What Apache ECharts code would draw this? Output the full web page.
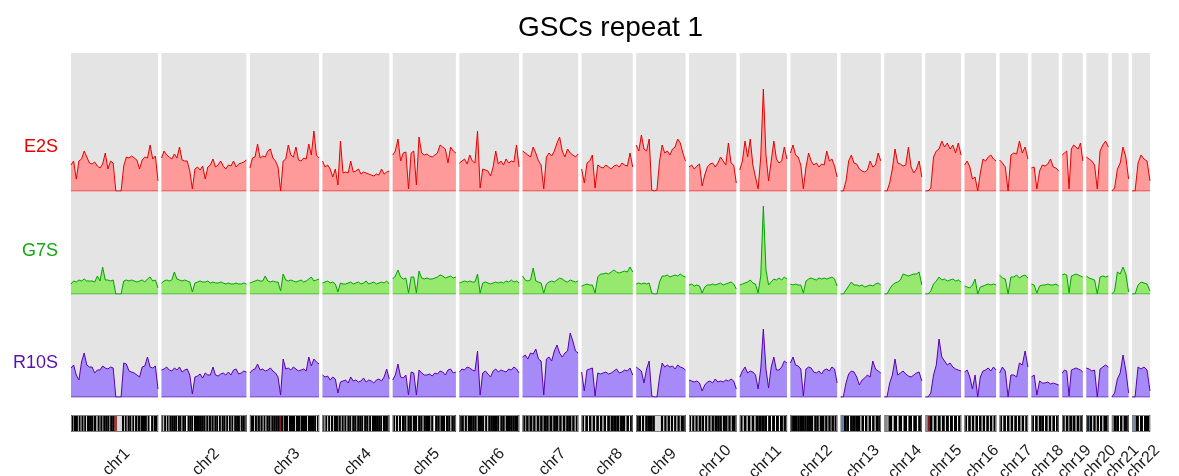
<!DOCTYPE html>
<html><head><meta charset="utf-8">
<script src="https://cdn.jsdelivr.net/npm/echarts@6/dist/echarts.min.js"></script>
<style>html,body{margin:0;padding:0;background:#fff}#c{width:1179px;height:476px}</style>
</head><body><div id="c"></div>
<script>
const chromosomes = ['chr1','chr2','chr3','chr4','chr5','chr6','chr7','chr8','chr9','chr10','chr11','chr12','chr13','chr14','chr15','chr16','chr17','chr18','chr19','chr20','chr21','chr22'];
const chrLengthsMb = [249.25,243.20,198.02,191.15,180.92,171.12,159.14,146.36,141.21,135.53,135.01,133.85,115.17,107.35,102.53,90.35,81.20,78.08,59.13,63.03,48.13,51.30];
const samples = ['E2S','G7S','R10S'];

// per-chromosome binned signal (relative units)
const E2S = [
 [26,30,12,30,32,40,34,28,27,29,25,23,27,38,22,30,28,0,0,0,25,34,33,35,33,31,22,31,34,33,46,32,35,10],
 [33,40,36,34,32,37,33,44,31,30,30,20,2,22,24,21,25,12,24,26,32,24,26,30,25,22,26,25,30,24,27,28,29,31],
 [23,33,34,47,33,35,34,40,42,33,30,24,0,30,32,46,36,34,44,31,30,33,32,47,36,60,36,33],
 [30,24,26,22,14,22,6,50,18,19,18,30,19,20,22,17,19,18,17,16,15,17,16,22,17,19,20],
 [36,40,52,30,38,39,2,38,40,6,54,38,36,37,35,34,36,38,46,44,42,28,44,40,38],
 [28,30,32,27,36,30,28,60,3,22,21,20,15,24,40,27,30,26,32,28,30,29,46,24],
 [40,38,36,34,44,38,30,26,2,34,38,35,40,48,54,40,34,42,38,36,34,37],
 [22,8,28,30,36,3,26,24,23,26,24,22,25,26,24,28,26,25,38,24],
 [46,40,56,42,40,52,1,0,1,30,46,38,40,36,42,44,52,48,38,30],
 [24,26,22,25,27,5,16,24,27,28,24,28,34,30,26,48,28,26,8],
 [21,30,50,34,52,26,14,2,34,102,36,10,30,50,32,28,30,44,32],
 [38,46,36,34,26,2,24,38,30,26,28,24,27,26,40,30,32,25,14],
 [0,0,10,30,36,28,27,22,20,19,21,30,24,26,38,30],
 [0,0,8,22,42,28,27,25,26,44,24,18,22,30,14],
 [0,0,3,34,40,42,50,44,48,42,46,38,48,36],
 [26,30,24,12,14,0,18,32,30,34,36,32,30],
 [31,28,24,0,36,38,37,50,38,44,32],
 [23,24,2,20,26,25,27,32,24,23,20],
 [36,38,40,2,42,46,44,42,48,30],
 [34,32,30,26,2,40,46,50,44],
 [0,3,22,28,44,34,12],
 [0,0,28,36,32,30,10]
];
const G7S = [
 [10,13,12,14,13,15,13,13,13,12,18,13,27,14,14,13,14,0,0,0,13,14,13,14,13,12,13,14,12,15,17,13,14,6],
 [11,13,14,13,14,22,15,14,13,14,13,12,2,11,12,13,12,12,13,11,12,11,11,12,11,10,11,10,10,11,10,10,11,10],
 [11,12,13,14,13,13,18,13,12,13,12,12,3,20,14,13,14,13,12,13,14,12,13,15,17,13,14,15],
 [11,12,13,11,12,10,2,11,10,10,11,12,10,11,12,10,11,13,10,11,12,10,11,12,11,13,10],
 [15,18,24,17,15,16,1,17,17,1,23,16,15,16,15,15,16,17,19,18,16,17,18,16,17],
 [11,12,13,12,13,12,12,20,1,11,12,11,10,11,12,11,12,11,13,12,14,12,13,11],
 [18,14,13,14,26,13,12,11,1,10,12,13,12,14,16,15,13,12,14,13,12,13],
 [8,9,10,9,9,1,17,20,20,21,20,22,24,22,21,22,23,22,27,22],
 [10,11,10,11,10,11,1,0,0,12,18,18,19,17,18,19,18,20,18,17],
 [9,10,8,9,8,1,7,9,9,10,9,10,11,9,10,11,12,10,5],
 [9,10,11,12,14,11,10,1,18,88,24,9,12,15,14,16,14,17,15],
 [10,9,10,9,9,1,13,15,16,15,14,16,15,16,15,16,17,15,8],
 [0,0,4,8,12,9,9,8,9,7,8,9,8,10,11,9],
 [0,0,5,9,11,12,14,20,19,18,19,20,20,22,9],
 [0,0,3,10,13,17,14,15,13,14,15,13,14,12],
 [8,7,6,9,15,0,7,8,9,10,9,10,9],
 [19,16,15,0,17,17,19,16,18,19,16],
 [10,9,1,8,9,9,10,9,9,10,8],
 [19,20,19,1,18,19,20,19,18,17],
 [18,16,15,14,0,17,18,17,18],
 [0,3,22,20,27,20,2],
 [0,0,9,12,11,10,3]
];
const R10S = [
 [29,32,22,17,35,44,32,30,30,24,27,27,31,29,28,30,29,0,0,0,34,33,26,25,24,22,20,30,31,40,30,29,31,8],
 [27,28,30,27,26,29,27,30,25,27,28,22,3,20,21,23,19,24,22,22,30,22,21,23,24,22,25,22,27,28,23,24,26,25],
 [24,27,28,33,27,28,26,27,29,26,24,20,2,38,28,29,27,30,28,26,27,28,26,40,31,38,35,33],
 [22,20,21,17,20,18,4,15,16,17,14,20,16,17,15,16,19,15,17,16,14,17,18,16,20,28,18],
 [17,22,33,20,19,22,2,25,24,2,27,24,22,22,23,21,24,23,26,25,22,27,28,24,25],
 [25,28,27,30,29,27,26,46,2,24,26,23,20,26,28,25,27,26,25,28,27,30,28,24],
 [40,42,38,44,43,48,38,36,2,38,40,36,46,52,44,40,44,46,64,56,46,44],
 [25,6,27,28,29,1,24,23,24,25,23,24,26,28,24,25,27,26,29,22],
 [30,28,26,14,28,36,1,0,0,20,34,30,32,30,31,28,32,30,29,27],
 [17,16,15,16,14,6,12,15,16,14,18,15,16,15,17,16,18,16,8],
 [20,26,30,24,26,25,22,8,28,68,28,9,30,40,27,27,30,36,34],
 [34,40,32,31,28,1,28,30,29,25,24,26,23,27,28,26,30,28,14],
 [0,0,14,23,26,25,20,12,17,19,22,20,36,28,26,24],
 [0,0,14,22,38,22,24,26,23,21,20,22,24,25,16],
 [0,0,4,22,32,58,40,36,32,34,30,28,27,26],
 [25,27,20,8,22,0,20,26,27,29,26,30,27],
 [24,30,26,0,22,22,20,34,32,46,30],
 [20,22,2,16,14,14,15,13,14,13,12],
 [24,27,26,1,27,28,29,28,27,25],
 [29,28,26,27,0,28,30,32,30],
 [0,4,18,24,42,27,4],
 [0,0,30,28,30,27,6]
];

// cytoband stain sequence per chromosome (k=gpos100, w=gneg, g=gpos50, l=gvar, r=acen, b=stalk)
const cytobands = [
 'kgkkwkwkgkwkkkgkgwkgkgkkkgkkrrllllkwkwkkwkwkgkgkkkwkwwkgkk',
 'kwkwkwkkkkwkkwkkwwkkkwkkkkkkgkgkgkgkkwkwkkgkwkgkwkkkwkkk',
 'kkwkgkgkwkwkkgkkkkrkgkkwkkkwkkgkkkwkkkkwk',
 'kwkwkwkwkkgkwkgkwkkwkkgkkkwkkgkwkkkkkwkkk',
 'kwkwkwkkwkkwkkwkkwkkkgkwwkkgkkwkkwkk',
 'kkwkwkkkkwkkkwkwkkkkkwkkwkkkkkk',
 'kgkgkgkwkgkgkkgkgkkgkwkgkkgkwk',
 'kwkwkwkwkwkwkwkgkkkgkkwkwk',
 'kkwkwkkkkllllkwkwkwkwkwkwkk',
 'kwkwkwkgkwkwkwkgkkkwkkgkwkk',
 'kwkwkwkwkkkkwkwkwkwkgk',
 'kkkkkkkkkkwkkwkkgkgkgkgk',
 'gbgkkwkkkkwkwkwkwkwkk',
 'gggkwkwkwkwkwkwk',
 'ggrkwkwkwkwkwkwkwk',
 'kwkwkwkwkwkwkwkwk',
 'kwkwkwkwkwkwkwk',
 'kwkwkkwkwkwkwk',
 'kwkgkgkwkgk',
 'kbkwkwkwkwkk',
 'gbkkwkwkk',
 'gbgkwkwkk'
];
const bandColors = {k:'#000000', w:'#ffffff', g:'#8c8c8c', l:'#d4d4d4', r:'#8b1a1a', b:'#5a78a8'};
const bandWeights = {k:2.2, w:0.8, g:0.9, l:1.4, r:1.4, b:1};

const sampleData = [E2S, G7S, R10S];
const lineColors = ['#E60000', '#00A300', '#5A00B0'];
const fillColors = ['#FF9A9A', '#96E86E', '#A68AF8'];
const labelColors = ['#E60000', '#10A810', '#5A10B0'];

const GAP = 10;
const offsets = [];
let acc = 0;
chrLengthsMb.forEach(L => { offsets.push(acc); acc += L + GAP; });
const TOTAL = acc - GAP;

const FONT = '"Liberation Sans", Arial, sans-serif';
const grids = [
  {left:71, right:29, top:53, height:345},
  {left:71, right:29, top:88, height:103},
  {left:71, right:29, top:191, height:103},
  {left:71, right:29, top:294, height:103},
  {left:71, right:29, top:415, height:17}
];
const xAxis = grids.map((g,i)=>({gridIndex:i, type:'value', min:0, max:TOTAL, show:false}));
const yAxis = grids.map((g,i)=>({gridIndex:i, type:'value', min:0, max:(i>=1&&i<=3)?103:1, show:false}));

const series = [];
series.push({
  type:'custom', xAxisIndex:0, yAxisIndex:0, silent:true, z:0,
  data: chromosomes.map((c,i)=>[offsets[i], 0, offsets[i]+chrLengthsMb[i]]),
  renderItem:(params, api)=>{
    const p0 = api.coord([api.value(0), 1]);
    const p1 = api.coord([api.value(2), 0]);
    return {type:'rect', shape:{x:p0[0], y:p0[1], width:p1[0]-p0[0], height:p1[1]-p0[1]}, style:{fill:'#E4E4E4'}};
  }
});

sampleData.forEach((arr, s) => {
  arr.forEach((vals, i) => {
    const L = chrLengthsMb[i], n = vals.length;
    series.push({
      type:'line', xAxisIndex:s+1, yAxisIndex:s+1, silent:true, z:2,
      symbol:'none', showSymbol:false, animation:false,
      data: vals.map((v,j)=>[offsets[i] + j/(n-1)*L, v]),
      lineStyle:{color:lineColors[s], width:1},
      areaStyle:{color:fillColors[s], opacity:1}
    });
    series.push({
      type:'line', xAxisIndex:s+1, yAxisIndex:s+1, silent:true, z:3,
      symbol:'none', showSymbol:false, animation:false,
      data: [[offsets[i],0],[offsets[i]+L,0]],
      lineStyle:{color:lineColors[s], width:1, opacity:0.7}
    });
  });
});

series.push({
  type:'custom', xAxisIndex:4, yAxisIndex:4, silent:true, z:2,
  data: chromosomes.map((c,i)=>[offsets[i], 0, offsets[i]+chrLengthsMb[i], i]),
  renderItem:(params, api)=>{
    const s = api.value(0), e = api.value(2), i = api.value(3);
    const band = cytobands[i];
    const total = band.split('').reduce((a,c)=>a+bandWeights[c],0);
    const top = api.coord([s,1])[1], bot = api.coord([s,0])[1];
    const children = [];
    let cum = 0;
    for (let k=0;k<band.length;k++){
      const w = bandWeights[band[k]];
      const x0 = api.coord([s+(e-s)*cum/total,0])[0];
      cum += w;
      const x1 = api.coord([s+(e-s)*cum/total,0])[0];
      children.push({type:'rect', shape:{x:x0, y:top, width:x1-x0+0.2, height:bot-top}, style:{fill:bandColors[band[k]]}});
    }
    const xs = api.coord([s,0])[0], xe = api.coord([e,0])[0];
    children.push({type:'rect', shape:{x:xs+0.5, y:top+0.5, width:xe-xs-1, height:bot-top-1}, style:{fill:'none', stroke:'#808080', lineWidth:1}});
    children.push({type:'text', x:(xs+xe)/2+2, y:bot+30, rotation:Math.PI/4,
      style:{text:chromosomes[i], fill:'#1a1a1a', font:'16px ' + FONT, align:'center', verticalAlign:'middle'}});
    return {type:'group', children};
  }
});

const labelY = [147.5, 250.7, 363];
const graphic = [
  {type:'text', x:610.5, y:28, style:{text:'GSCs repeat 1', fill:'#000', font:'28px ' + FONT, align:'center', verticalAlign:'middle'}}
].concat(samples.map((name,s)=>({type:'text', x:58, y:labelY[s],
  style:{text:name, fill:labelColors[s], font:'18px ' + FONT, align:'right', verticalAlign:'middle'}})));

const chart = echarts.init(document.getElementById('c'));
chart.setOption({animation:false, backgroundColor:'#ffffff', grid:grids, xAxis, yAxis, series, graphic});
</script></body></html>
